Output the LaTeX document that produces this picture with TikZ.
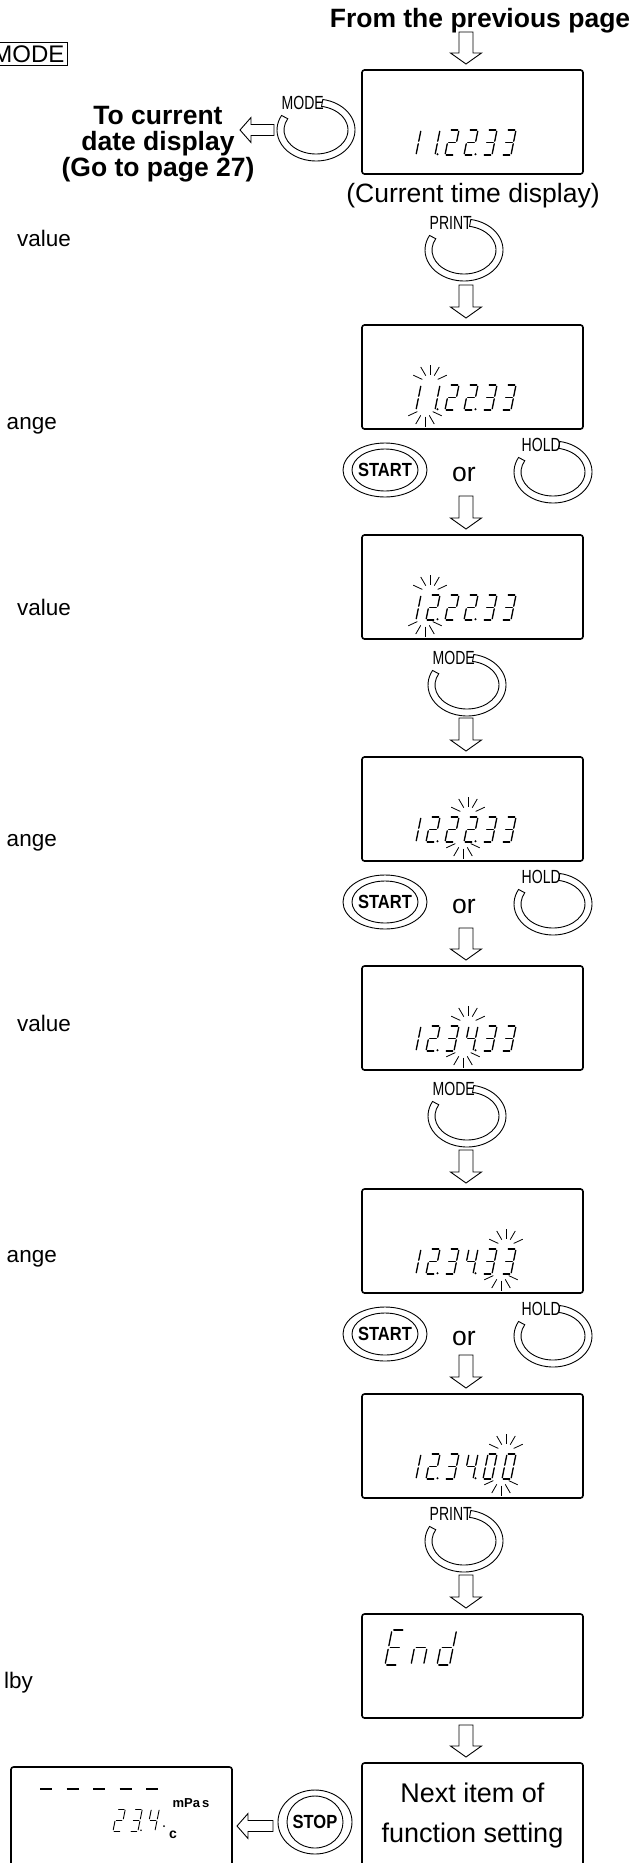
\documentclass[tikz,border=0pt]{standalone}
\usepackage{fontspec}
\setmainfont{Liberation Sans}
\usetikzlibrary{calc}

\newcommand\segA{\draw[seg] (1.3,25) -- (7.7,25);}
\newcommand\segB{\draw[seg] (9,23.7) -- (9,13.8);}
\newcommand\segC{\draw[seg] (9,11.2) -- (9,1.3);}
\newcommand\segD{\draw[seg] (1.3,0) -- (7.7,0);}
\newcommand\segE{\draw[seg] (0,1.3) -- (0,11.2);}
\newcommand\segF{\draw[seg] (0,13.8) -- (0,23.7);}
\newcommand\segG{\draw[seg] (1.3,12.5) -- (7.7,12.5);}

\newcommand\lcdZero{A,B,C,D,E,F}
\newcommand\lcdOne{B,C}
\newcommand\lcdTwo{A,B,G,E,D}
\newcommand\lcdThree{A,B,G,C,D}
\newcommand\lcdFour{F,G,B,C}
\newcommand\lcdEE{A,F,G,E,D}
\newcommand\lcdNN{E,G,C}
\newcommand\lcdDD{B,C,D,E,G}

\newcommand\lcddigit[4]{\begin{scope}[shift={(#1,#2)},scale=#3,xslant=0.2]\foreach \s in #4 {\csname seg\s\endcsname}\end{scope}}

\newcommand\timedisp[8]{%
  \lcddigit{#1}{#2}{1}{#3}
  \lcddigit{#1+19}{#2}{1}{#4}
  \lcddigit{#1+38}{#2}{1}{#5}
  \lcddigit{#1+57}{#2}{1}{#6}
  \lcddigit{#1+76}{#2}{1}{#7}
  \lcddigit{#1+95}{#2}{1}{#8}
  \fill (#1+30.5,#2+0.7) circle (1.1);
  \fill (#1+68.5,#2+0.7) circle (1.1);
}

\newcommand\flick[2]{%
  \foreach \a in {155,120,90,60,25} {\draw[ray] (#1+23,#2+27) ++(\a:8.5) -- ++(\a:10);}
  \foreach \a in {-155,-120,-90,-60,-25} {\draw[ray] (#1+18,#2+2) ++(\a:8.5) -- ++(\a:10);}
}

\newcommand\nar[1]{\scalebox{0.74}[1]{#1}}

\newcommand\ringbtn[4]{%
  \coordinate (#1) at (#2,#3);
  \draw[ringline] (#1) ++(80:39 and 31) arc[start angle=80,end angle=-208,x radius=39,y radius=31]
     -- ($(#1)+(-208:32 and 24)$) arc[start angle=-208,end angle=80,x radius=32,y radius=24] -- cycle;
  \node[btnlab, anchor=east] (#1-l) at (#2+8,#3+27) {\nar{#4}};
}

\newcommand\pushbtn[6]{% name x y label rx ry
  \coordinate (#1) at (#2,#3);
  \draw[ringline] (#1) ellipse [x radius=#5, y radius=#6];
  \draw[ringline] (#1) ellipse [x radius=#5-9, y radius=#6-6];
  \node[pushlab] (#1-l) at (#1) {\scalebox{0.87}[1]{#4}};
}

\tikzset{
  lcd/.style={draw, line width=1.6pt, rounded corners=2.5pt, minimum width=221pt, minimum height=104pt, inner sep=0pt},
  seg/.style={line width=1.3pt, line cap=round},
  ray/.style={line width=0.8pt},
  ringline/.style={line width=0.9pt, fill=white},
  txt/.style={font=\fontsize{26.5}{30}\selectfont, inner sep=0pt},
  ltxt/.style={font=\fontsize{22.5}{26}\selectfont, inner sep=0pt},
  btxt/.style={font=\bfseries\fontsize{26.5}{26}\selectfont, align=center, inner sep=0pt},
  btnlab/.style={font=\fontsize{19}{19}\selectfont, inner sep=0pt},
  pushlab/.style={font=\bfseries\fontsize{19}{19}\selectfont, inner sep=0pt},
  blk/.style n args={2}{draw, line width=0.9pt, fill=white, line join=miter,
    to path={-- ($(\tikztostart)!#1!90:(\tikztotarget)$)
             -- ($(\tikztotarget)!11pt!(\tikztostart)!#1!90:(\tikztotarget)$)
             -- ($(\tikztotarget)!11pt!(\tikztostart)!#2!90:(\tikztotarget)$)
             -- (\tikztotarget)
             -- ($(\tikztotarget)!11pt!(\tikztostart)!#2!-90:(\tikztotarget)$)
             -- ($(\tikztotarget)!11pt!(\tikztostart)!#1!-90:(\tikztotarget)$)
             -- ($(\tikztostart)!#1!-90:(\tikztotarget)$) -- cycle}},
  varr/.style={blk={7pt}{15.5pt}},
  harr/.style={blk={5.5pt}{12.5pt}},
}

\begin{document}
\begin{tikzpicture}[x=1pt,y=1pt]
\useasboundingbox (0,0) rectangle (643,-1863);
\clip (0,0) rectangle (643,-1863);
\fill[white] (0,0) rectangle (643,-1863);

% left column fragments
\node[ltxt, font=\fontsize{24}{28}\selectfont, draw, line width=1pt, inner sep=3pt, anchor=east] (modebox) at (68,-54) {MODE};
\node[ltxt, anchor=west] (v1) at (17,-238) {value};
\node[ltxt, anchor=east] (c1) at (57,-426) {ange};
\node[ltxt, anchor=west] (v2) at (17,-607) {value};
\node[ltxt, anchor=east] (c2) at (57,-843) {ange};
\node[ltxt, anchor=west] (v3) at (17,-1023) {value};
\node[ltxt, anchor=east] (c3) at (57,-1259) {ange};
\node[ltxt, anchor=east] (sb) at (33,-1683) {lby};

% header
\node[btxt] (from) at (480,-21) {From the previous page};
\coordinate (a0s) at (466,-32); \coordinate (a0e) at (466,-64);
\draw[varr] (a0s) to (a0e);

% box 1
\node[lcd] (b1) at (472.5,-122) {};
\timedisp{407}{-155}{\lcdOne}{\lcdOne}{\lcdTwo}{\lcdTwo}{\lcdThree}{\lcdThree}
\ringbtn{mode0}{316}{-130}{MODE}
\coordinate (la0s) at (274,-130); \coordinate (la0e) at (240,-130);
\draw[harr] (la0s) to (la0e);
\node[btxt] (goto) at (158,-144) {To current\\date display\\(Go to page 27)};
\node[txt] (cur) at (473,-196) {(Current time display)};

\ringbtn{print1}{464}{-250}{PRINT}
\coordinate (a1s) at (466,-285); \coordinate (a1e) at (466,-318);
\draw[varr] (a1s) to (a1e);

% box 2
\node[lcd] (b2) at (472.5,-377) {};
\timedisp{407}{-410}{\lcdOne}{\lcdOne}{\lcdTwo}{\lcdTwo}{\lcdThree}{\lcdThree}
\flick{407}{-410}
\pushbtn{start1}{385}{-470}{START}{42}{27}
\node[txt] (or1) at (464,-474) {or};
\ringbtn{hold1}{553}{-472}{HOLD}
\coordinate (a2s) at (466,-496); \coordinate (a2e) at (466,-529);
\draw[varr] (a2s) to (a2e);

% box 3
\node[lcd] (b3) at (472.5,-587) {};
\timedisp{407}{-620}{\lcdOne}{\lcdTwo}{\lcdTwo}{\lcdTwo}{\lcdThree}{\lcdThree}
\flick{407}{-620}
\ringbtn{mode1}{467}{-685}{MODE}
\coordinate (a3s) at (466,-718); \coordinate (a3e) at (466,-751);
\draw[varr] (a3s) to (a3e);

% box 4
\node[lcd] (b4) at (472.5,-809) {};
\timedisp{407}{-842}{\lcdOne}{\lcdTwo}{\lcdTwo}{\lcdTwo}{\lcdThree}{\lcdThree}
\flick{445}{-842}
\pushbtn{start2}{385}{-902}{START}{42}{27}
\node[txt] (or2) at (464,-906) {or};
\ringbtn{hold2}{553}{-904}{HOLD}
\coordinate (a4s) at (466,-928); \coordinate (a4e) at (466,-960);
\draw[varr] (a4s) to (a4e);

% box 5
\node[lcd] (b5) at (472.5,-1018) {};
\timedisp{407}{-1051}{\lcdOne}{\lcdTwo}{\lcdThree}{\lcdFour}{\lcdThree}{\lcdThree}
\flick{445}{-1051}
\ringbtn{mode2}{467}{-1116}{MODE}
\coordinate (a5s) at (466,-1150); \coordinate (a5e) at (466,-1183);
\draw[varr] (a5s) to (a5e);

% box 6
\node[lcd] (b6) at (472.5,-1241) {};
\timedisp{407}{-1274}{\lcdOne}{\lcdTwo}{\lcdThree}{\lcdFour}{\lcdThree}{\lcdThree}
\flick{483}{-1274}
\pushbtn{start3}{385}{-1334}{START}{42}{27}
\node[txt] (or3) at (464,-1338) {or};
\ringbtn{hold3}{553}{-1336}{HOLD}
\coordinate (a6s) at (466,-1355); \coordinate (a6e) at (466,-1388);
\draw[varr] (a6s) to (a6e);

% box 7
\node[lcd] (b7) at (472.5,-1446) {};
\timedisp{407}{-1479}{\lcdOne}{\lcdTwo}{\lcdThree}{\lcdFour}{\lcdZero}{\lcdZero}
\flick{483}{-1479}
\ringbtn{print2}{464}{-1541}{PRINT}
\coordinate (a7s) at (466,-1575); \coordinate (a7e) at (466,-1608);
\draw[varr] (a7s) to (a7e);

% box 8 End
\node[lcd] (b8) at (472.5,-1666) {};
\lcddigit{385}{-1665}{1.4}{\lcdEE}
\lcddigit{411}{-1665}{1.4}{\lcdNN}
\lcddigit{437}{-1665}{1.4}{\lcdDD}
\coordinate (a8s) at (466,-1725); \coordinate (a8e) at (466,-1757);
\draw[varr] (a8s) to (a8e);

% box 9
\node[lcd, font=\fontsize{27}{40}\selectfont, align=center] (b9) at (472.5,-1815) {Next item of\\function setting};
\pushbtn{stop}{315}{-1822}{STOP}{37}{32}
\coordinate (la1s) at (273,-1826); \coordinate (la1e) at (237,-1826);
\draw[harr] (la1s) to (la1e);

% standby display
\node[lcd] (b10) at (121.5,-1819) {};
\foreach \i in {0,...,4} {\draw[line width=2.5pt] (40+26.5*\i,-1789) -- ++(12,0);}
\node[font=\bfseries\fontsize{13}{13}\selectfont, inner sep=0pt] (mpas) at (191,-1803) {mPa\,s};
\begin{scope}
\tikzset{seg/.style={line width=0.9pt, line cap=round}}
\lcddigit{113}{-1831}{0.88}{\lcdTwo}
\lcddigit{130}{-1831}{0.88}{\lcdThree}
\lcddigit{147}{-1831}{0.88}{\lcdFour}
\fill (141,-1830.3) circle (0.9);
\end{scope}
\fill (164,-1826) circle (1);
\node[font=\bfseries\fontsize{14}{14}\selectfont, inner sep=0pt] (degc) at (173,-1835) {c};
\end{tikzpicture}
\end{document}
